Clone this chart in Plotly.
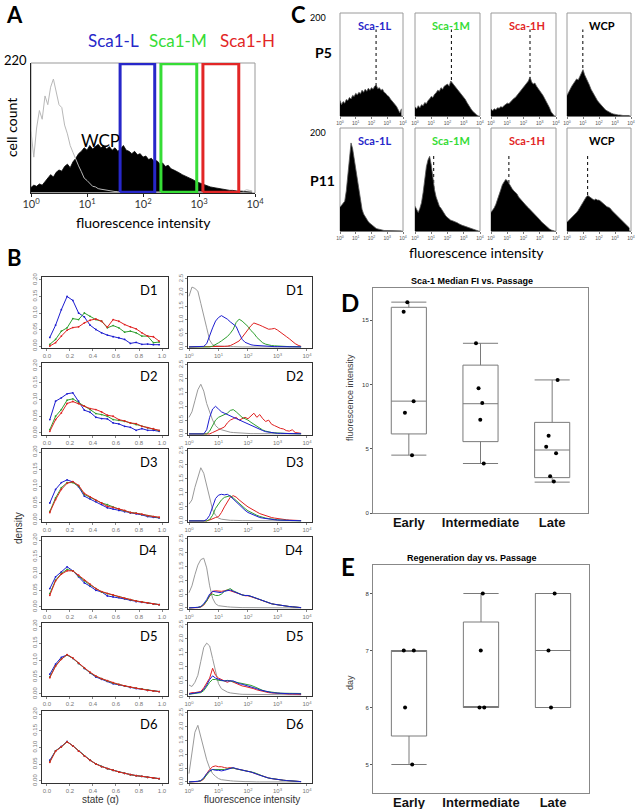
import plotly.graph_objects as go

W, H = 635, 809
CAL = "Lato, 'Open Sans', sans-serif"
ARIAL = "'Liberation Sans', Arial, sans-serif"
NARROW = "'Liberation Sans Narrow', 'Arial Narrow', 'Liberation Sans', sans-serif"

# ---------------- panel A : WCP histogram with Sca1 gates ----------------
A_BINS = [0.00, 0.05, 0.10, 0.15, 0.20, 0.25, 0.30, 0.35, 0.40, 0.45,
          0.50, 0.55, 0.60, 0.65, 0.70, 0.75, 0.80, 0.85, 0.90, 0.95,
          1.00, 1.05, 1.10, 1.15, 1.20, 1.25, 1.30, 1.35, 1.40, 1.45,
          1.50, 1.55, 1.60, 1.65, 1.70, 1.75, 1.80, 1.85, 1.90, 1.95,
          2.00, 2.05, 2.10, 2.15, 2.20, 2.25, 2.30, 2.35, 2.40, 2.45,
          2.50, 2.55, 2.60, 2.65, 2.70, 2.75, 2.80, 2.85, 2.90, 2.95,
          3.00, 3.05, 3.10, 3.15, 3.20, 3.25, 3.30, 3.35, 3.40, 3.45,
          3.50, 3.55, 3.60, 3.65, 3.70, 3.75, 3.80, 3.85, 3.90, 3.95]
A_WCP = [8, 12, 10, 14, 12, 18, 22, 30, 26, 34,
         38, 36, 44, 48, 42, 52, 58, 66, 70, 76,
         72, 80, 74, 78, 82, 76, 80, 74, 78, 72,
         76, 70, 74, 80, 72, 70, 66, 70, 64, 66,
         60, 62, 56, 58, 52, 54, 48, 50, 44, 46,
         40, 38, 36, 33, 30, 28, 25, 23, 21, 18,
         16, 14, 12, 10, 9, 8, 7, 6, 5, 5,
         4, 3, 3, 2, 2, 1, 1, 1, 0, 0]
A_ISO = [104, 60, 110, 140, 125, 165, 150, 180, 194, 170,
         150, 145, 115, 100, 80, 68, 55, 45, 35, 24,
         20, 14, 10, 9, 6, 5, 4, 3, 2, 2,
         1, 1, 0, 0, 0, 0, 0, 0, 0, 0,
         0, 0, 0, 0, 0, 0, 0, 0, 0, 0,
         0, 0, 0, 0, 0, 0, 0, 0, 0, 0,
         0, 0, 0, 0, 0, 0, 0, 0, 0, 0,
         0, 0, 0, 1, 2, 3, 2, 4, 3, 2]
A_GATE_LO = [39, 209, 1175]
A_GATE_HI = [162, 912, 5130]
A_YMAX = 220
GATE_NAMES = ["Sca1-L", "Sca1-M", "Sca1-H"]

# ---------------- panel C : P5 / P11 sorted fractions ----------------
C_BINS = [0.0, 0.1, 0.2, 0.3, 0.4, 0.5, 0.6, 0.7, 0.8, 0.9,
          1.0, 1.1, 1.2, 1.3, 1.4, 1.5, 1.6, 1.7, 1.8, 1.9,
          2.0, 2.1, 2.2, 2.3, 2.4, 2.5, 2.6, 2.7, 2.8, 2.9,
          3.0, 3.1, 3.2, 3.3, 3.4, 3.5, 3.6, 3.7, 3.8, 3.9]
C_P5_L = [30, 22, 28, 25, 32, 30, 36, 33, 40, 38,
          44, 41, 46, 43, 50, 46, 52, 48, 54, 50,
          55, 52, 58, 60, 53, 55, 50, 52, 46, 44,
          40, 38, 33, 30, 26, 22, 18, 12, 6, 14]
C_P5_M = [18, 14, 20, 16, 22, 20, 26, 24, 30, 33,
          38, 36, 42, 45, 50, 48, 55, 52, 58, 60,
          62, 58, 68, 64, 60, 56, 52, 48, 46, 42,
          36, 32, 26, 20, 15, 11, 8, 4, 2, 0]
C_P5_H = [14, 10, 14, 12, 16, 15, 18, 17, 20, 22,
          25, 24, 28, 30, 34, 36, 40, 44, 48, 52,
          55, 60, 63, 68, 76, 66, 62, 64, 58, 54,
          50, 45, 40, 34, 28, 24, 16, 8, 3, 0]
C_P5_WCP = [40, 45, 52, 58, 62, 68, 72, 70, 78, 84,
            90, 80, 74, 66, 60, 52, 46, 40, 34, 30,
            26, 22, 18, 15, 12, 10, 8, 6, 5, 4,
            3, 3, 2, 2, 1, 1, 1, 1, 1, 1]
C_P11_L = [46, 50, 52, 58, 78, 110, 150, 171, 160, 140,
           120, 95, 75, 58, 42, 33, 27, 22, 18, 15,
           12, 9, 7, 5, 4, 3, 2, 2, 1, 1,
           1, 0, 0, 0, 0, 0, 0, 0, 0, 0]
C_P11_M = [48, 42, 36, 44, 55, 75, 100, 125, 138, 145,
           128, 100, 80, 66, 56, 48, 44, 38, 33, 29,
           26, 23, 21, 20, 19, 18, 16, 14, 12, 11,
           10, 9, 8, 7, 6, 4, 3, 2, 1, 0]
C_P11_H = [36, 40, 45, 52, 60, 70, 80, 90, 96, 100,
           98, 92, 86, 82, 78, 75, 72, 66, 62, 58,
           55, 52, 48, 45, 42, 38, 35, 32, 28, 25,
           22, 18, 15, 12, 9, 6, 4, 2, 1, 0]
C_P11_WCP = [17, 20, 22, 25, 28, 32, 36, 40, 45, 50,
             56, 62, 66, 69, 66, 64, 62, 60, 62, 60,
             60, 58, 55, 52, 50, 47, 46, 44, 40, 37,
             34, 31, 28, 24, 21, 18, 15, 12, 10, 6]
C_P5_MED = [2.29, 2.24, 2.4, 0.99]
C_P11_MED = [0.72, 1.15, 1.1, 1.29]
C_NAMES = ["Sca-1L", "Sca-1M", "Sca-1H", "WCP"]
C_YMAX = 200

# ---------------- panel B : state density (left) and FI histograms (right) ----------------
DAYS = ["D1", "D2", "D3", "D4", "D5", "D6"]
STATE_X = [0.025, 0.075, 0.125, 0.175, 0.225, 0.275, 0.325, 0.375, 0.425, 0.475,
           0.525, 0.575, 0.625, 0.675, 0.725, 0.775, 0.825, 0.875, 0.925, 0.975]
STATE_BLUE = [
    [0.026, 0.063, 0.110, 0.150, 0.138, 0.100, 0.088, 0.063, 0.050, 0.040, 0.033, 0.028, 0.025, 0.020, 0.008, 0.011, 0.005, 0.006, 0.004, 0.004],
    [0.040, 0.095, 0.105, 0.117, 0.120, 0.095, 0.068, 0.062, 0.047, 0.043, 0.042, 0.030, 0.027, 0.020, 0.017, 0.008, 0.013, 0.008, 0.008, 0.005],
    [0.050, 0.090, 0.110, 0.118, 0.112, 0.098, 0.070, 0.062, 0.054, 0.046, 0.036, 0.032, 0.028, 0.024, 0.020, 0.018, 0.015, 0.010, 0.008, 0.006],
    [0.055, 0.090, 0.105, 0.120, 0.108, 0.090, 0.072, 0.062, 0.050, 0.045, 0.033, 0.030, 0.028, 0.024, 0.020, 0.016, 0.014, 0.012, 0.009, 0.007],
    [0.058, 0.088, 0.108, 0.115, 0.105, 0.090, 0.075, 0.062, 0.050, 0.043, 0.037, 0.030, 0.027, 0.023, 0.019, 0.016, 0.014, 0.011, 0.009, 0.007],
    [0.062, 0.090, 0.103, 0.118, 0.105, 0.090, 0.075, 0.062, 0.051, 0.043, 0.037, 0.032, 0.027, 0.023, 0.019, 0.016, 0.014, 0.011, 0.009, 0.007],
]
STATE_GREEN = [
    [0.005, 0.020, 0.045, 0.055, 0.083, 0.080, 0.100, 0.090, 0.080, 0.075, 0.055, 0.062, 0.055, 0.042, 0.045, 0.040, 0.030, 0.030, 0.010, 0.012],
    [0.010, 0.050, 0.070, 0.098, 0.102, 0.090, 0.080, 0.070, 0.058, 0.055, 0.050, 0.040, 0.038, 0.035, 0.030, 0.025, 0.020, 0.015, 0.012, 0.007],
    [0.025, 0.065, 0.095, 0.110, 0.110, 0.100, 0.075, 0.066, 0.057, 0.050, 0.045, 0.038, 0.032, 0.027, 0.022, 0.020, 0.016, 0.012, 0.010, 0.007],
    [0.040, 0.080, 0.100, 0.112, 0.108, 0.092, 0.078, 0.066, 0.055, 0.045, 0.040, 0.035, 0.030, 0.025, 0.022, 0.018, 0.015, 0.012, 0.009, 0.007],
    [0.050, 0.083, 0.103, 0.115, 0.105, 0.090, 0.076, 0.063, 0.052, 0.045, 0.038, 0.032, 0.028, 0.023, 0.020, 0.017, 0.014, 0.011, 0.009, 0.007],
    [0.058, 0.090, 0.102, 0.117, 0.105, 0.090, 0.075, 0.062, 0.051, 0.043, 0.037, 0.032, 0.027, 0.023, 0.019, 0.016, 0.014, 0.011, 0.009, 0.007],
]
STATE_RED = [
    [0.000, 0.010, 0.030, 0.048, 0.056, 0.058, 0.070, 0.078, 0.082, 0.075, 0.057, 0.080, 0.075, 0.065, 0.058, 0.052, 0.040, 0.030, 0.028, 0.015],
    [0.005, 0.040, 0.060, 0.088, 0.094, 0.088, 0.080, 0.073, 0.070, 0.063, 0.053, 0.050, 0.040, 0.036, 0.030, 0.028, 0.020, 0.016, 0.013, 0.008],
    [0.022, 0.060, 0.090, 0.108, 0.113, 0.102, 0.078, 0.068, 0.058, 0.050, 0.040, 0.037, 0.033, 0.028, 0.022, 0.020, 0.017, 0.013, 0.010, 0.008],
    [0.035, 0.078, 0.098, 0.108, 0.108, 0.095, 0.080, 0.068, 0.055, 0.046, 0.040, 0.036, 0.031, 0.026, 0.022, 0.018, 0.015, 0.012, 0.009, 0.007],
    [0.048, 0.082, 0.102, 0.116, 0.106, 0.091, 0.077, 0.064, 0.053, 0.045, 0.039, 0.033, 0.028, 0.024, 0.020, 0.017, 0.014, 0.011, 0.009, 0.007],
    [0.056, 0.089, 0.102, 0.117, 0.105, 0.089, 0.075, 0.062, 0.051, 0.043, 0.037, 0.032, 0.027, 0.023, 0.019, 0.016, 0.014, 0.011, 0.009, 0.007],
]

F_BINS = [0.0, 0.1, 0.2, 0.3, 0.4, 0.5, 0.6, 0.7, 0.8, 0.9,
          1.0, 1.1, 1.2, 1.3, 1.4, 1.5, 1.6, 1.7, 1.8, 1.9,
          2.0, 2.1, 2.2, 2.3, 2.4, 2.5, 2.6, 2.7, 2.8, 2.9,
          3.0, 3.1, 3.2, 3.3, 3.4, 3.5, 3.6, 3.7, 3.8]
FL_GREY = [
    [1.86, 2.2, 2.15, 2.05, 1.6, 1.1, 0.7, 0.25, 0.08, 0.04,
     0.03, 0.02, 0.02, 0.01, 0.01, 0.01, 0, 0, 0, 0,
     0, 0, 0, 0, 0, 0, 0, 0, 0, 0,
     0, 0, 0, 0, 0, 0, 0, 0, 0],
    [0.6, 0.8, 1.2, 1.6, 1.8, 1.55, 1.1, 0.8, 0.5, 0.3,
     0.2, 0.15, 0.12, 0.08, 0.06, 0.05, 0.04, 0.03, 0.02, 0.02,
     0.01, 0.01, 0.01, 0.01, 0.01, 0, 0, 0, 0, 0,
     0, 0, 0, 0, 0, 0, 0, 0, 0],
    [0.6, 0.75, 1.2, 1.6, 1.9, 1.7, 1.3, 0.8, 0.4, 0.2,
     0.1, 0.06, 0.04, 0.03, 0.02, 0.02, 0.01, 0.01, 0.01, 0.01,
     0.01, 0, 0, 0, 0, 0, 0, 0, 0, 0,
     0, 0, 0, 0, 0, 0, 0, 0, 0],
    [0.55, 0.8, 1.2, 1.55, 1.75, 1.8, 1.45, 0.8, 0.35, 0.15,
     0.08, 0.06, 0.05, 0.04, 0.03, 0.02, 0.02, 0.01, 0.01, 0.01,
     0.01, 0, 0, 0, 0, 0, 0, 0, 0, 0,
     0, 0, 0, 0, 0, 0, 0, 0, 0],
    [0.35, 0.3, 0.45, 0.7, 1.2, 1.7, 1.85, 1.75, 1.3, 0.8,
     0.4, 0.22, 0.15, 0.1, 0.07, 0.05, 0.04, 0.03, 0.02, 0.02,
     0.01, 0.01, 0, 0, 0, 0, 0, 0, 0, 0,
     0, 0, 0, 0, 0, 0, 0, 0, 0],
    [0.3, 1.1, 1.8, 2.05, 1.6, 1.15, 0.8, 0.5, 0.3, 0.2,
     0.12, 0.08, 0.06, 0.05, 0.04, 0.03, 0.02, 0.02, 0.01, 0.01,
     0.01, 0, 0, 0, 0, 0, 0, 0, 0, 0,
     0, 0, 0, 0, 0, 0, 0, 0, 0],
]
FL_BLUE = [
    [0, 0, 0, 0, 0, 0.02, 0.12, 0.45, 0.7, 0.95,
     1.08, 1.15, 1.1, 1.02, 0.92, 0.85, 0.75, 0.5, 0.28, 0.17,
     0.12, 0.08, 0.06, 0.05, 0.04, 0.03, 0.02, 0.02, 0.015, 0.01,
     0.01, 0.008, 0.005, 0.005, 0.004, 0.003, 0.002, 0.002, 0.001],
    [0, 0, 0, 0, 0, 0, 0.15, 0.6, 0.9, 1.0,
     0.9, 0.8, 0.75, 0.7, 0.65, 0.6, 0.55, 0.5, 0.45, 0.4,
     0.35, 0.3, 0.25, 0.2, 0.15, 0.12, 0.08, 0.06, 0.04, 0.03,
     0.02, 0.02, 0.015, 0.01, 0.01, 0.01, 0.005, 0.005, 0.005],
    [0, 0, 0, 0, 0, 0, 0.05, 0.2, 0.5, 0.8,
     0.92, 0.95, 0.93, 0.95, 0.88, 0.78, 0.68, 0.56, 0.46, 0.38,
     0.3, 0.25, 0.2, 0.15, 0.12, 0.1, 0.08, 0.06, 0.05, 0.04,
     0.03, 0.03, 0.02, 0.02, 0.015, 0.01, 0.01, 0.005, 0.005],
    [0, 0, 0, 0.02, 0.05, 0.15, 0.3, 0.5, 0.6, 0.58,
     0.55, 0.55, 0.6, 0.62, 0.65, 0.6, 0.55, 0.5, 0.47, 0.45,
     0.45, 0.42, 0.38, 0.34, 0.3, 0.26, 0.22, 0.18, 0.15, 0.13,
     0.11, 0.09, 0.07, 0.06, 0.05, 0.04, 0.03, 0.02, 0.01],
    [0.03, 0.05, 0.05, 0.08, 0.1, 0.2, 0.35, 0.55, 0.68, 0.6,
     0.55, 0.52, 0.5, 0.5, 0.52, 0.5, 0.45, 0.4, 0.38, 0.35,
     0.32, 0.3, 0.26, 0.22, 0.18, 0.15, 0.12, 0.1, 0.08, 0.07,
     0.06, 0.05, 0.05, 0.04, 0.04, 0.04, 0.05, 0.04, 0.03],
    [0, 0, 0, 0.02, 0.05, 0.15, 0.3, 0.4, 0.45, 0.42,
     0.42, 0.4, 0.42, 0.45, 0.5, 0.52, 0.48, 0.45, 0.42, 0.4,
     0.38, 0.36, 0.33, 0.28, 0.24, 0.2, 0.17, 0.14, 0.12, 0.1,
     0.08, 0.07, 0.06, 0.05, 0.04, 0.04, 0.03, 0.02, 0.01],
]
FL_GREEN = [
    [0, 0, 0, 0, 0, 0, 0, 0, 0.03, 0.08,
     0.15, 0.22, 0.3, 0.38, 0.5, 0.65, 0.9, 1.02, 0.95, 0.85,
     0.75, 0.6, 0.5, 0.35, 0.25, 0.15, 0.1, 0.07, 0.05, 0.04,
     0.03, 0.02, 0.02, 0.015, 0.01, 0.01, 0.01, 0.005, 0.005],
    [0, 0, 0, 0, 0, 0, 0, 0.1, 0.3, 0.5,
     0.6, 0.65, 0.7, 0.75, 0.85, 0.88, 0.8, 0.7, 0.6, 0.55,
     0.5, 0.42, 0.35, 0.28, 0.2, 0.14, 0.1, 0.07, 0.05, 0.04,
     0.03, 0.02, 0.02, 0.015, 0.01, 0.01, 0.01, 0.005, 0.005],
    [0, 0, 0, 0, 0, 0, 0, 0.05, 0.2, 0.45,
     0.62, 0.75, 0.84, 0.88, 0.9, 0.82, 0.72, 0.62, 0.52, 0.44,
     0.36, 0.3, 0.25, 0.2, 0.16, 0.12, 0.1, 0.08, 0.06, 0.05,
     0.04, 0.03, 0.02, 0.02, 0.015, 0.01, 0.01, 0.005, 0.005],
    [0, 0, 0, 0.02, 0.04, 0.12, 0.25, 0.45, 0.5, 0.45,
     0.45, 0.5, 0.6, 0.65, 0.7, 0.62, 0.56, 0.5, 0.47, 0.45,
     0.45, 0.42, 0.38, 0.34, 0.3, 0.26, 0.22, 0.18, 0.15, 0.13,
     0.11, 0.09, 0.07, 0.06, 0.05, 0.04, 0.03, 0.02, 0.01],
    [0.02, 0.04, 0.04, 0.06, 0.08, 0.15, 0.3, 0.45, 0.55, 0.55,
     0.52, 0.5, 0.5, 0.52, 0.5, 0.48, 0.45, 0.42, 0.42, 0.4,
     0.38, 0.34, 0.3, 0.25, 0.2, 0.16, 0.13, 0.11, 0.09, 0.08,
     0.07, 0.06, 0.06, 0.05, 0.05, 0.06, 0.07, 0.06, 0.05],
    [0, 0, 0, 0.02, 0.04, 0.12, 0.25, 0.38, 0.45, 0.45,
     0.45, 0.44, 0.45, 0.48, 0.5, 0.5, 0.47, 0.45, 0.43, 0.42,
     0.4, 0.38, 0.34, 0.3, 0.25, 0.21, 0.17, 0.14, 0.12, 0.1,
     0.08, 0.07, 0.06, 0.05, 0.04, 0.04, 0.03, 0.02, 0.01],
]
FL_RED = [
    [0, 0, 0, 0, 0, 0, 0, 0, 0, 0,
     0.02, 0.02, 0.02, 0.03, 0.05, 0.1, 0.15, 0.22, 0.35, 0.5,
     0.65, 0.78, 0.88, 0.85, 0.8, 0.75, 0.7, 0.65, 0.66, 0.68,
     0.62, 0.55, 0.45, 0.38, 0.3, 0.2, 0.12, 0.06, 0.02],
    [0, 0, 0, 0, 0, 0, 0, 0, 0.05, 0.1,
     0.15, 0.2, 0.25, 0.4, 0.5, 0.55, 0.6, 0.5, 0.55, 0.6,
     0.55, 0.65, 0.75, 0.6, 0.7, 0.55, 0.45, 0.5, 0.35, 0.3,
     0.25, 0.2, 0.18, 0.12, 0.1, 0.15, 0.05, 0.03, 0.02],
    [0, 0, 0, 0, 0, 0, 0, 0.03, 0.08, 0.12,
     0.15, 0.3, 0.5, 0.7, 0.85, 0.9, 0.85, 0.75, 0.65, 0.58,
     0.5, 0.45, 0.38, 0.32, 0.26, 0.22, 0.18, 0.15, 0.12, 0.1,
     0.08, 0.06, 0.05, 0.04, 0.03, 0.02, 0.02, 0.01, 0.01],
    [0, 0, 0, 0.01, 0.03, 0.1, 0.25, 0.45, 0.6, 0.62,
     0.6, 0.6, 0.62, 0.65, 0.62, 0.58, 0.54, 0.5, 0.46, 0.44,
     0.44, 0.41, 0.37, 0.33, 0.3, 0.26, 0.22, 0.18, 0.15, 0.13,
     0.11, 0.09, 0.07, 0.06, 0.05, 0.04, 0.03, 0.02, 0.01],
    [0.05, 0.08, 0.08, 0.1, 0.12, 0.25, 0.45, 0.6, 0.95, 0.7,
     0.6, 0.55, 0.5, 0.45, 0.5, 0.45, 0.4, 0.35, 0.32, 0.3,
     0.28, 0.25, 0.22, 0.18, 0.15, 0.12, 0.1, 0.08, 0.07, 0.06,
     0.05, 0.04, 0.04, 0.03, 0.03, 0.03, 0.03, 0.02, 0.02],
    [0, 0, 0, 0.01, 0.03, 0.1, 0.3, 0.45, 0.55, 0.58,
     0.55, 0.55, 0.52, 0.5, 0.52, 0.5, 0.46, 0.44, 0.42, 0.4,
     0.38, 0.36, 0.32, 0.28, 0.24, 0.2, 0.17, 0.14, 0.12, 0.1,
     0.08, 0.07, 0.06, 0.05, 0.04, 0.04, 0.03, 0.02, 0.01],
]

# ---------------- panels D and E : box plots vs passage ----------------
PASSAGE = ["Early", "Intermediate", "Late"]
D_Q1 = [6.15, 5.55, 2.75]
D_MED = [8.7, 8.5, 4.9]
D_Q3 = [16.0, 11.5, 7.05]
D_LO = [4.5, 3.85, 2.4]
D_HI = [16.4, 13.2, 10.35]
D_POINTS = [[16.4, 15.65, 8.7, 7.8, 4.5],
            [13.2, 9.7, 8.55, 7.25, 3.85],
            [10.35, 6.0, 5.15, 4.65, 2.85, 2.45]]
E_Q1 = [5.5, 6, 6]
E_MED = [7, 6, 7]
E_Q3 = [7, 7.5, 8]
E_LO = [5, 6, 6]
E_HI = [7, 8, 8]
E_POINTS = [[7, 7, 6, 5],
            [8, 7, 6, 6],
            [8, 7, 6]]

DECADES = [1, 10, 100, 1000, 10000]
DEC_TXT = ["10<sup>0</sup>", "10<sup>1</sup>", "10<sup>2</sup>", "10<sup>3</sup>", "10<sup>4</sup>"]

BLUE_T, GREEN_T, RED_T = "#2727c9", "#36dc36", "#e22626"
BLUE_B, GREEN_B, RED_B, GREY_B = "#1c1cd0", "#2f9f2f", "#e02020", "#9a9a9a"

fig = go.Figure()
n_axes = [0]


def new_axes(box, xopt, yopt):
    """box = (left, top, right, bottom) in pixels"""
    x0, y0, x1, y1 = box
    n_axes[0] += 1
    s = "" if n_axes[0] == 1 else str(n_axes[0])
    base = dict(showgrid=False, zeroline=False, automargin=False, fixedrange=True)
    fig.update_layout({
        "xaxis" + s: dict(domain=[x0 / W, x1 / W], anchor="y" + s, **base, **xopt),
        "yaxis" + s: dict(domain=[1 - y1 / H, 1 - y0 / H], anchor="x" + s, **base, **yopt),
    })
    return "x" + s, "y" + s


def frame(xr, yr, color, width=1):
    fig.add_shape(type="rect", xref=xr + " domain", yref=yr + " domain",
                  x0=0, x1=1, y0=0, y1=1, line=dict(color=color, width=width), layer="below")


def note(text, px, py, size, color="black", family=CAL, angle=0, anchor="center"):
    fig.add_annotation(x=px / W, y=1 - py / H, xref="paper", yref="paper", text=text,
                       showarrow=False, textangle=angle, xanchor=anchor, yanchor="middle",
                       font=dict(size=size, color=color, family=family))


def dnote(xr, yr, text, x, y, size, color="black", family=CAL, anchor="center"):
    fig.add_annotation(x=x, y=y, xref=xr + " domain", yref=yr + " domain", text=text,
                       showarrow=False, xanchor=anchor, yanchor="middle",
                       font=dict(size=size, color=color, family=family))


# ---- A ----
xa, ya = new_axes(
    (31, 63, 255, 193),
    dict(type="log", range=[0, 4], showline=True, linecolor="#222", ticks="outside", ticklen=3,
         tickcolor="#222", tickvals=DECADES, ticktext=DEC_TXT, ticklabelstandoff=-2,
         tickfont=dict(size=11, family=CAL, color="#333")),
    dict(range=[-1.5, A_YMAX + 1.5], showline=True, linecolor="#222", showticklabels=False, ticks=""))
frame(xa, ya, "#999")
a_x = [10 ** b for b in A_BINS]
fig.add_trace(go.Scatter(x=a_x, y=A_WCP, mode="lines", fill="tozeroy", fillcolor="black",
                         line=dict(color="black", width=0.8), xaxis=xa, yaxis=ya))
fig.add_trace(go.Scatter(x=a_x, y=A_ISO, mode="lines", line=dict(color="#b8b8b8", width=1),
                         xaxis=xa, yaxis=ya))
for lo, hi, col in zip(A_GATE_LO, A_GATE_HI, [BLUE_T, GREEN_T, RED_T]):
    fig.add_trace(go.Scatter(x=[lo, lo, hi, hi, lo], y=[0, A_YMAX, A_YMAX, 0, 0], mode="lines",
                             line=dict(color=col, width=3), xaxis=xa, yaxis=ya))

note("<b>A</b>", 14, 14, 22)
for name, cx, col in zip(GATE_NAMES, [113, 178, 247], [BLUE_T, GREEN_T, RED_T]):
    note(name, cx, 40, 17, color=col)
note("220", 15, 60, 13)
note("cell count", 12, 128, 14, angle=-90)
note("WCP", 100, 140, 17)
note("fluorescence intensity", 143, 222, 14)

# ---- C ----
C_COLS = [(340, 403), (415, 480), (491, 556), (567, 631)]
C_ROWS = [(13, 116), (128, 231)]
C_DOT_TOP = [168, 150]
c_x = [10 ** b for b in C_BINS]
c_data = [[C_P5_L, C_P5_M, C_P5_H, C_P5_WCP], [C_P11_L, C_P11_M, C_P11_H, C_P11_WCP]]
c_meds = [C_P5_MED, C_P11_MED]
for r, (top, bot) in enumerate(C_ROWS):
    for c, (left, right) in enumerate(C_COLS):
        xc, yc = new_axes(
            (left, top, right, bot),
            dict(type="log", range=[0, 4], showline=True, linecolor="#777", ticks="outside",
                 ticklen=2, tickcolor="#777", tickvals=DECADES, ticktext=DEC_TXT,
                 tickfont=dict(size=5, family=ARIAL, color="#555")),
            dict(range=[0, C_YMAX], showticklabels=False, ticks="", showline=False))
        frame(xc, yc, "#9a9a9a")
        m = 10 ** c_meds[r][c]
        fig.add_trace(go.Scatter(x=[m, m], y=[0, C_DOT_TOP[r]], mode="lines",
                                 line=dict(color="black", width=1, dash="dot"), xaxis=xc, yaxis=yc))
        fig.add_trace(go.Scatter(x=c_x, y=c_data[r][c], mode="lines", fill="tozeroy",
                                 fillcolor="black", line=dict(color="#555", width=0.8),
                                 xaxis=xc, yaxis=yc))
        col = [BLUE_T, GREEN_T, RED_T, "black"][c]
        dnote(xc, yc, "<b>" + C_NAMES[c] + "</b>", 0.55, 0.88, 11, color=col)

note("<b>C</b>", 298, 14, 22)
note("200", 318, 17, 9)
note("200", 318, 133, 9)
note("<b>P5</b>", 323, 53, 14)
note("<b>P11</b>", 322, 180, 14)
note("fluorescence intensity", 476, 253, 14)

# ---- B ----
B_ROWS = [(277, 348), (363, 435), (449, 522), (537, 609), (623, 696), (711, 783)]
tick_font = dict(size=6, family=ARIAL, color="#777")
frame_col = "#333"
left_x = dict(range=[-0.043, 1.052], showline=True, mirror=True, linecolor=frame_col, linewidth=1.2,
              ticks="outside", ticklen=2, tickcolor="#888", tickvals=[0, 0.2, 0.4, 0.6, 0.8, 1.0],
              ticktext=["0.0", "0.2", "0.4", "0.6", "0.8", "1.0"], tickfont=tick_font)
left_y = dict(range=[-0.006, 0.209], showline=True, mirror=True, linecolor=frame_col, linewidth=1.2,
              ticks="outside", ticklen=2, tickcolor="#888", tickvals=[0, 0.05, 0.1, 0.15, 0.2],
              ticktext=["0.00", "0.05", "0.10", "0.15", "0.20"], tickangle=-90, tickfont=tick_font)
right_x = dict(type="log", range=[-0.034, 4.17], showline=True, mirror=True, linecolor=frame_col,
               linewidth=1.2, ticks="outside", ticklen=2, tickcolor="#888", tickvals=DECADES,
               ticktext=DEC_TXT, tickfont=tick_font)
right_y = dict(range=[-0.04, 2.57], showline=True, mirror=True, linecolor=frame_col, linewidth=1.2,
               ticks="outside", ticklen=2, tickcolor="#888", tickvals=[0, 0.5, 1.0, 1.5, 2.0, 2.5],
               ticktext=["0.0", "0.5", "1.0", "1.5", "2.0", "2.5"], tickangle=-90, tickfont=tick_font)
f_x = [10 ** b for b in F_BINS]
for d, (top, bot) in enumerate(B_ROWS):
    xl, yl = new_axes((42, top, 168, bot), left_x, left_y)
    for vals, col in ((STATE_BLUE[d], BLUE_B), (STATE_GREEN[d], GREEN_B), (STATE_RED[d], RED_B)):
        fig.add_trace(go.Scatter(x=STATE_X, y=vals, mode="lines+markers",
                                 line=dict(color=col, width=1), marker=dict(size=1.8, color=col),
                                 xaxis=xl, yaxis=yl))
    dnote(xl, yl, DAYS[d], 0.93, 0.82, 13, anchor="right")
    xr, yr = new_axes((188, top, 312, bot), right_x, right_y)
    for vals, col in ((FL_GREY[d], GREY_B), (FL_RED[d], RED_B), (FL_GREEN[d], GREEN_B), (FL_BLUE[d], BLUE_B)):
        fig.add_trace(go.Scatter(x=f_x, y=vals, mode="lines", line=dict(color=col, width=1),
                                 xaxis=xr, yaxis=yr))
    dnote(xr, yr, DAYS[d], 0.94, 0.82, 13, anchor="right")

note("<b>B</b>", 14, 258, 22)
note("density", 18, 528, 10, color="#333", family=ARIAL, angle=-90)
note("state (\u03b1)", 100, 799, 10, color="#333", family=ARIAL)
note("fluorescence intensity", 252, 799, 10, color="#333", family=ARIAL)


# ---- D and E ----
def box_panel(box, yrange, ytickvals, q1, med, q3, lo, hi, points):
    xp, yp = new_axes(
        box,
        dict(type="category", categoryorder="array", categoryarray=PASSAGE, range=[-0.5, 2.5],
             showline=True, mirror=True, linecolor="#888", ticks="", tickvals=PASSAGE,
             ticktext=["<b>" + p + "</b>" for p in PASSAGE], ticklabelstandoff=-3,
             tickfont=dict(size=13, family=NARROW, color="#111")),
        dict(range=yrange, tickvals=ytickvals, showline=True, mirror=True, linecolor="#888",
             ticks="outside", ticklen=2, tickcolor="#555",
             tickfont=dict(size=6, family=ARIAL, color="#333")))
    fig.add_trace(go.Box(x=PASSAGE, q1=q1, median=med, q3=q3, lowerfence=lo, upperfence=hi,
                         boxpoints=False, width=0.49, whiskerwidth=1, fillcolor="white",
                         line=dict(color="#7a7a7a", width=1), hoverinfo="skip",
                         xaxis=xp, yaxis=yp))
    px_ = [p for p, vals in zip(PASSAGE, points) for _ in vals]
    py_ = [v for vals in points for v in vals]
    fig.add_trace(go.Box(x=px_, y=py_, boxpoints="all", jitter=0.35, pointpos=0, width=0.49,
                         line=dict(width=0, color="rgba(0,0,0,0)"), fillcolor="rgba(0,0,0,0)",
                         marker=dict(color="black", size=4), xaxis=xp, yaxis=yp))
    return xp, yp


box_panel((373, 288, 588, 513), [0, 17.5], [0, 5, 10, 15], D_Q1, D_MED, D_Q3, D_LO, D_HI, D_POINTS)
note("<b>Sca-1 Median FI vs. Passage</b>", 472, 281, 9, family=NARROW)
note("<b>D</b>", 350, 302, 24)
note("fluorescence intensity", 350, 398, 9, color="#444", family=ARIAL, angle=-90)

box_panel((373, 565, 589, 793), [4.5, 8.5], [5, 6, 7, 8], E_Q1, E_MED, E_Q3, E_LO, E_HI, E_POINTS)
note("<b>Regeneration day vs. Passage</b>", 472, 558, 9, family=NARROW)
note("<b>E</b>", 348, 566, 24)
note("day", 350, 683, 9, color="#444", family=ARIAL, angle=-90)

fig.update_layout(width=W, height=H, margin=dict(l=0, r=0, t=0, b=0), showlegend=False,
                  paper_bgcolor="white", plot_bgcolor="white", boxmode="overlay")
# the page's default 8px body margin would push the figure off the window
fig.write_html("out.html", config={"displayModeBar": False},
               post_script="document.body.style.margin = '0';")
